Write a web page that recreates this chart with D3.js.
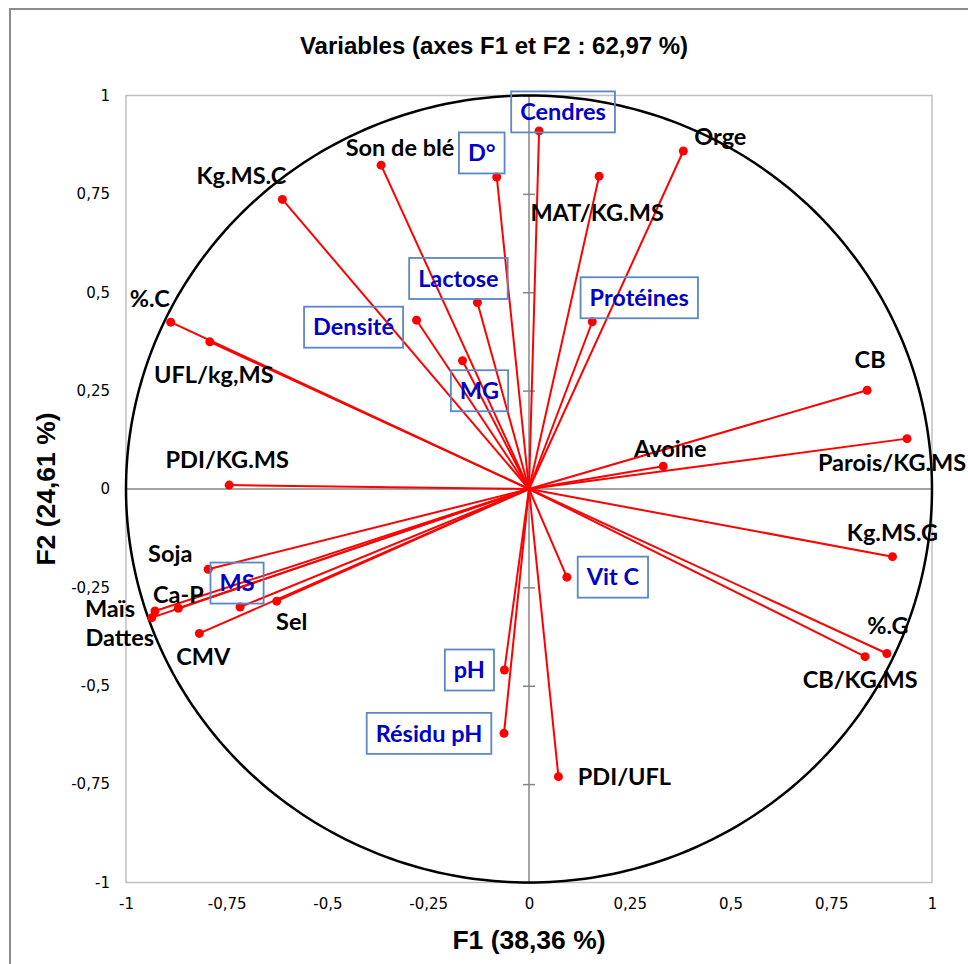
<!DOCTYPE html>
<html>
<head>
<meta charset="utf-8">
<script src="https://cdn.jsdelivr.net/npm/d3@7"></script>
<style>
  html, body { margin: 0; padding: 0; background: #fff; }
  svg { display: block; }
</style>
</head>
<body>
<svg id="chart" width="968" height="964"></svg>
<script>
// ---- DATA ----
const title = "Variables (axes F1 et F2 : 62,97 %)";
const xTitle = "F1 (38,36 %)";
const yTitle = "F2 (24,61 %)";
const tickValues = [-1, -0.75, -0.5, -0.25, 0, 0.25, 0.5, 0.75, 1];
const tickLabels = ["-1", "-0,75", "-0,5", "-0,25", "0", "0,25", "0,5", "0,75", "1"];

const variables = ["Cendres", "D°", "MAT/KG.MS", "Orge", "Son de blé", "Kg.MS.C", "%.C", "UFL/kg,MS",
  "Lactose", "Densité", "Protéines", "MG", "CB", "Parois/KG.MS", "Avoine", "PDI/KG.MS",
  "Kg.MS.G", "%.G", "CB/KG.MS", "Vit C", "pH", "Résidu pH", "PDI/UFL",
  "Soja", "MS", "Sel", "Ca-P", "Maïs", "Dattes", "CMV"];
const f1 = [0.025, -0.080, 0.174, 0.383, -0.367, -0.612, -0.889, -0.792,
  -0.128, -0.279, 0.157, -0.165, 0.839, 0.938, 0.333, -0.744,
  0.902, 0.888, 0.834, 0.094, -0.061, -0.062, 0.073,
  -0.796, -0.717, -0.626, -0.870, -0.928, -0.936, -0.818];
const f2 = [0.910, 0.793, 0.795, 0.859, 0.823, 0.736, 0.424, 0.374,
  0.474, 0.429, 0.425, 0.326, 0.251, 0.128, 0.058, 0.010,
  -0.172, -0.418, -0.426, -0.224, -0.460, -0.621, -0.731,
  -0.204, -0.300, -0.285, -0.303, -0.310, -0.327, -0.367];
// variables whose labels are shown in a framed (blue) label
const boxedVariables = ["Cendres", "D°", "Lactose", "Densité", "Protéines", "MG", "Vit C", "pH", "Résidu pH", "MS"];

// ---- LAYOUT (label placement relative to the point, in px) ----
const labelOffset = {
  "Cendres": [24, -19], "D°": [-15, -24], "MAT/KG.MS": [-2, 37], "Orge": [37, -14],
  "Son de blé": [19, -17], "Kg.MS.C": [-41, -24], "%.C": [-21, -23], "UFL/kg,MS": [4, 33],
  "Lactose": [-19, -24], "Densité": [-63, 7], "Protéines": [47, -24], "MG": [17, 30],
  "CB": [3, -30], "Parois/KG.MS": [-15, 24], "Avoine": [7, -17], "PDI/KG.MS": [-2, -25],
  "Kg.MS.G": [0, -24], "%.G": [1, -28], "CB/KG.MS": [-5, 23], "Vit C": [46, 0],
  "pH": [-35, 0], "Résidu pH": [-75, 0], "PDI/UFL": [66, 0],
  "Soja": [-38, -15], "MS": [-3, -24], "Sel": [15, 21], "Ca-P": [0, -13],
  "Maïs": [-45, -2], "Dattes": [-32, 20], "CMV": [4, 23]
};

const svg = d3.select("#chart");
const pLeft = 126, pRight = 932, pTop = 95.5, pBottom = 882.5;
const x = d3.scaleLinear().domain([-1, 1]).range([pLeft, pRight]);
const y = d3.scaleLinear().domain([-1, 1]).range([pBottom, pTop]);

// outer chart border
svg.append("rect").attr("x", 10).attr("y", 9).attr("width", 1000).attr("height", 1000)
  .attr("fill", "none").attr("stroke", "#8c8c8c").attr("stroke-width", 2);

// plot area border
svg.append("rect").attr("x", pLeft).attr("y", pTop).attr("width", pRight - pLeft).attr("height", pBottom - pTop)
  .attr("fill", "none").attr("stroke", "#c0c0c0").attr("stroke-width", 1.5);

// title
svg.append("text").attr("x", 494).attr("y", 54).attr("text-anchor", "middle")
  .attr("font-family", "Liberation Sans, Arial, sans-serif").attr("font-weight", "bold")
  .attr("font-size", 24).text(title);

// tick labels (left and bottom)
const fmt = v => tickLabels[tickValues.indexOf(v)];
const yAxisG = svg.append("g").attr("transform", `translate(${pLeft},0)`)
  .call(d3.axisLeft(y).tickValues(tickValues).tickFormat(fmt).tickSize(0).tickPadding(16));
const xAxisG = svg.append("g").attr("transform", `translate(0,${pBottom})`)
  .call(d3.axisBottom(x).tickValues(tickValues).tickFormat(fmt).tickSize(0).tickPadding(16));
[yAxisG, xAxisG].forEach(g => {
  g.select(".domain").remove();
  g.selectAll("text").attr("font-family", "DejaVu Sans, sans-serif").attr("font-size", 15).attr("fill", "#000");
});

// central axes
svg.append("line").attr("x1", x(-1)).attr("x2", x(1)).attr("y1", y(0)).attr("y2", y(0))
  .attr("stroke", "#868686").attr("stroke-width", 1.5);
svg.append("line").attr("x1", x(0)).attr("x2", x(0)).attr("y1", y(-1)).attr("y2", y(1))
  .attr("stroke", "#868686").attr("stroke-width", 1.5);
const crossAxis = svg.append("g").attr("transform", `translate(${x(0) - 6},0)`)
  .call(d3.axisRight(y).tickValues(tickValues).tickFormat("").tickSize(12));
crossAxis.select(".domain").remove();
crossAxis.selectAll("line").attr("stroke", "#868686").attr("stroke-width", 1.5);

// correlation circle
const angles = d3.range(0, 361).map(d => d * Math.PI / 180);
svg.append("path")
  .attr("d", d3.line().x(a => x(Math.cos(a))).y(a => y(Math.sin(a)))(angles))
  .attr("fill", "none").attr("stroke", "#000").attr("stroke-width", 2.5);

// axis titles
svg.append("text").attr("x", x(0)).attr("y", 949).attr("text-anchor", "middle")
  .attr("font-family", "Liberation Sans, Arial, sans-serif").attr("font-weight", "bold")
  .attr("font-size", 26.5).text(xTitle);
svg.append("text").attr("transform", `translate(55,${y(0)}) rotate(-90)`).attr("text-anchor", "middle")
  .attr("font-family", "Liberation Sans, Arial, sans-serif").attr("font-weight", "bold")
  .attr("font-size", 26.5).text(yTitle);

// vectors
const data = variables.map((name, i) => ({ name, f1: f1[i], f2: f2[i], boxed: boxedVariables.includes(name) }));
svg.append("g").selectAll("line").data(data).join("line")
  .attr("x1", x(0)).attr("y1", y(0))
  .attr("x2", d => x(d.f1)).attr("y2", d => y(d.f2))
  .attr("stroke", "#ff0000").attr("stroke-width", 2);
svg.append("g").selectAll("circle").data(data).join("circle")
  .attr("cx", d => x(d.f1)).attr("cy", d => y(d.f2)).attr("r", 4.5).attr("fill", "#ff0000");

// labels
const labG = svg.append("g");
data.forEach(d => {
  const [dx, dy] = labelOffset[d.name];
  const cx = x(d.f1) + dx, cy = y(d.f2) + dy;
  const t = labG.append("text").attr("x", cx).attr("y", cy).attr("dy", "0.35em")
    .attr("text-anchor", "middle")
    .attr("font-family", "Lato, 'Open Sans', sans-serif").attr("font-weight", "bold")
    .attr("font-size", 23.5).attr("fill", d.boxed ? "#0000c8" : "#000").text(d.name);
  if (d.boxed) {
    const w = t.node().getComputedTextLength();
    labG.insert("rect", "text").attr("x", cx - w / 2 - 9).attr("y", cy - 20.5)
      .attr("width", w + 18).attr("height", 41)
      .attr("fill", "none").attr("stroke", "#5b87c5").attr("stroke-width", 1.8);
  }
});
</script>
</body>
</html>
